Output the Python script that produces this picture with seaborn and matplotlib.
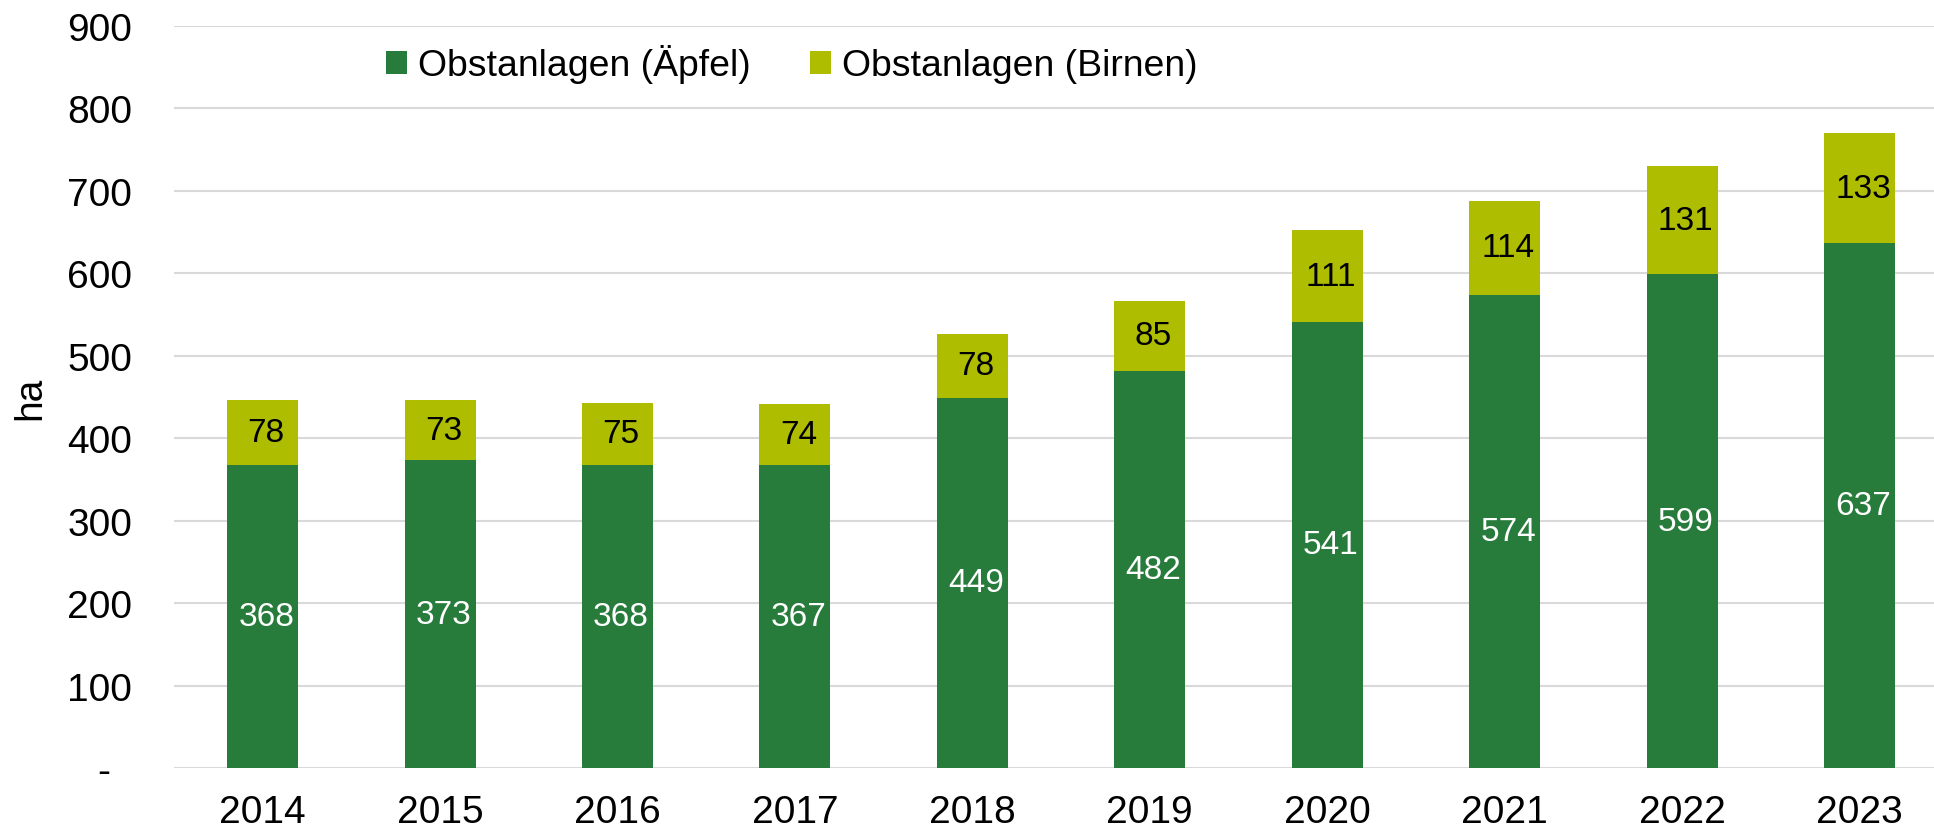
import matplotlib
matplotlib.use("Agg")
import matplotlib.pyplot as plt
import seaborn as sns
import pandas as pd
from matplotlib.patches import Patch

years = ["2014", "2015", "2016", "2017", "2018", "2019", "2020", "2021", "2022", "2023"]
aepfel = [368, 373, 368, 367, 449, 482, 541, 574, 599, 637]
birnen = [78, 73, 75, 74, 78, 85, 111, 114, 131, 133]
yticks = [0, 100, 200, 300, 400, 500, 600, 700, 800, 900]
ytick_labels = ["-  ", "100", "200", "300", "400", "500", "600", "700", "800", "900"]
series_names = ["Obstanlagen (Äpfel)", "Obstanlagen (Birnen)"]

c_apfel = "#287C3B"
c_birne = "#AEBD00"

sns.set_theme(style="white")
plt.rcParams["font.family"] = ["Liberation Sans", "DejaVu Sans"]
plt.rcParams["text.color"] = "black"

df = pd.DataFrame({"Jahr": years, "Aepfel": aepfel, "Birnen": birnen})
df["Gesamt"] = df["Aepfel"] + df["Birnen"]

fig = plt.figure(figsize=(19.34, 8.29), dpi=100)
ax = fig.add_axes([174 / 1934, 60 / 829, 1 - 174 / 1934, (769 - 27) / 829])

sns.barplot(data=df, x="Jahr", y="Gesamt", color=c_birne, width=0.4,
            saturation=1, ax=ax, zorder=3, linewidth=0)
sns.barplot(data=df, x="Jahr", y="Aepfel", color=c_apfel, width=0.4,
            saturation=1, ax=ax, zorder=4, linewidth=0)

for i, (a, b) in enumerate(zip(df["Aepfel"], df["Birnen"])):
    ax.text(i + 0.02, a / 2, str(a), ha="center", va="center", color="white",
            fontsize=24, zorder=5)
    ax.text(i + 0.02, a + b / 2, str(b), ha="center", va="center", color="black",
            fontsize=24, zorder=5)

ax.set_ylim(0, 900)
ax.set_xlim(-0.5, 9.42)
ax.set_yticks(yticks)
ax.set_yticklabels(ytick_labels)
ax.yaxis.grid(True, color="#D9D9D9", linewidth=1.5, zorder=0)
ax.xaxis.grid(False)
for s in ax.spines.values():
    s.set_visible(False)
ax.tick_params(axis="y", length=0, pad=30, labelsize=28, colors="black")
ax.tick_params(axis="x", length=0, pad=19, labelsize=28, colors="black")
ax.set_xlabel("")
ax.set_ylabel("ha", fontsize=28, color="black")
ax.yaxis.set_label_coords(-0.0716, 0.5)

handles = [Patch(facecolor=c_apfel, edgecolor="none"), Patch(facecolor=c_birne, edgecolor="none")]
leg = fig.legend(handles, series_names, loc="center left",
                 bbox_to_anchor=(386 / 1934, 1 - 65 / 829), ncol=2, frameon=False,
                 fontsize=26.9, handlelength=0.55, handleheight=0.55,
                 handletextpad=0.3, columnspacing=1.6, borderpad=0, borderaxespad=0)
for t in leg.get_texts():
    t.set_color("black")

fig.savefig("out.png", dpi=100, facecolor="white")
